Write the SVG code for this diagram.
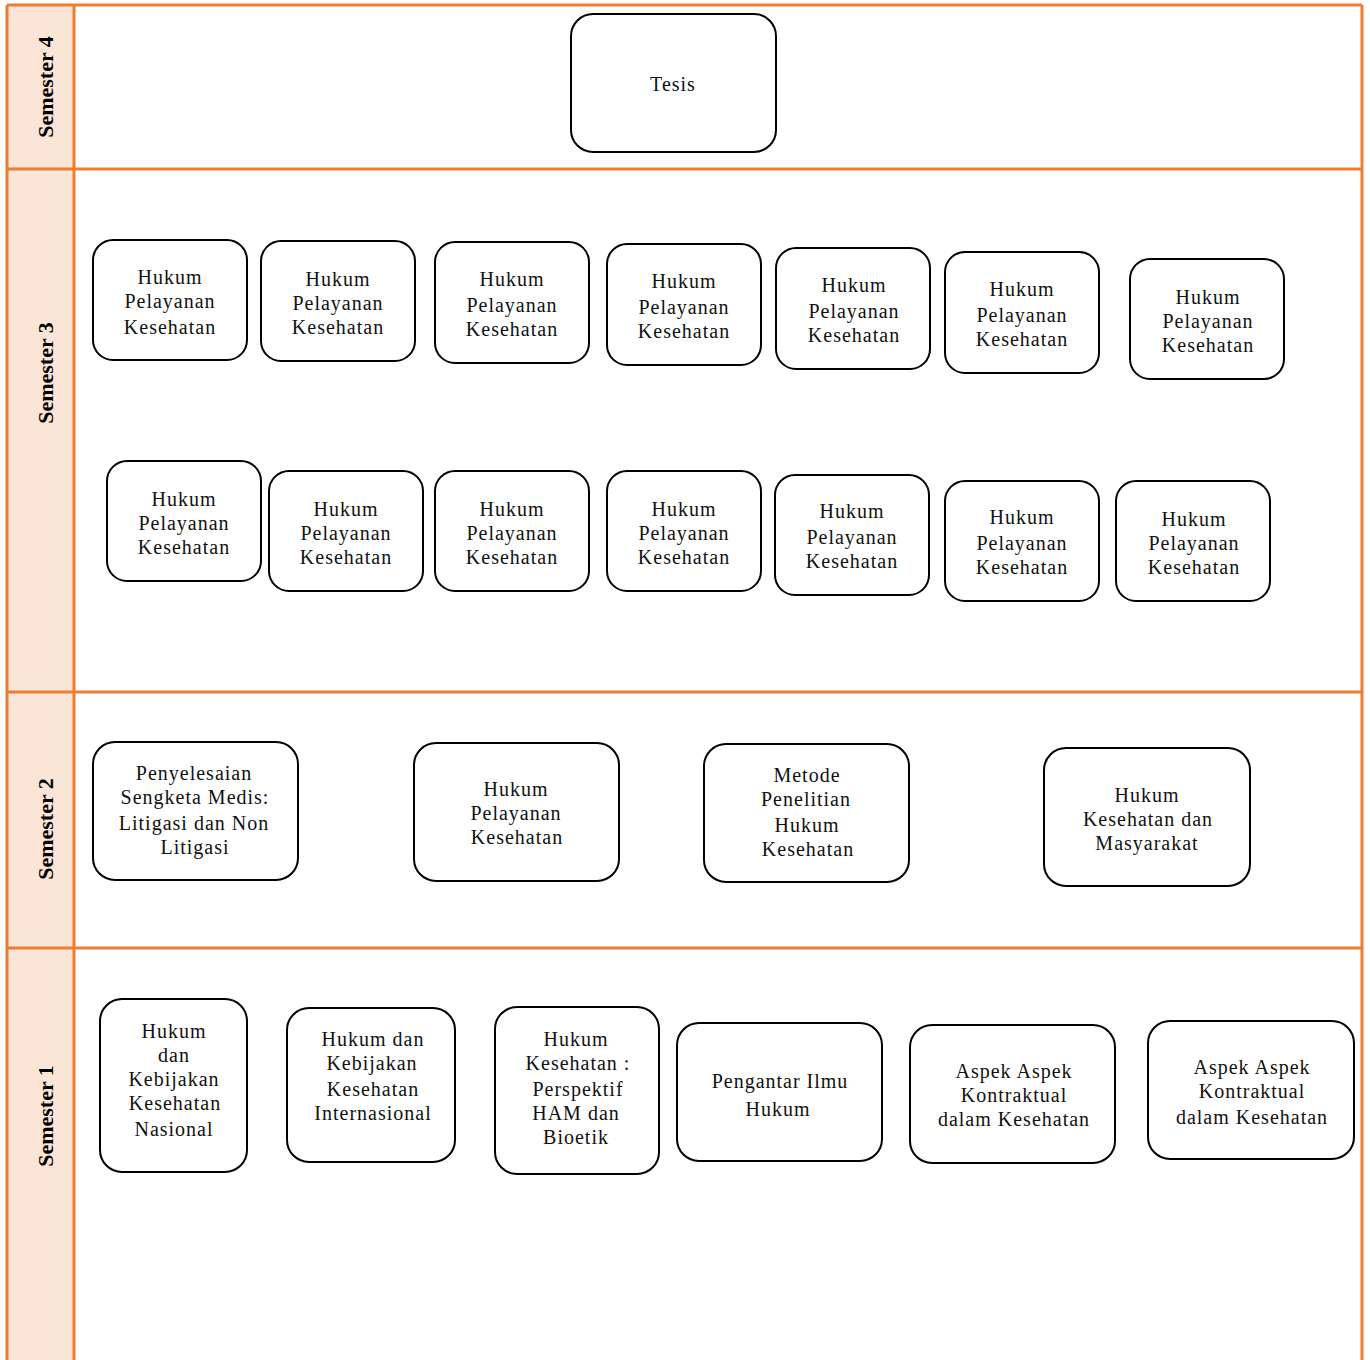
<svg xmlns="http://www.w3.org/2000/svg" width="1370" height="1360" viewBox="0 0 1370 1360">
<style>
.lane{fill:#FBE5D6;stroke:none}
.ln{stroke:#ED7D31;stroke-width:3;fill:none}
.lbl{font-family:"Liberation Serif",serif;font-size:22px;font-weight:bold;fill:#000;text-anchor:middle}
.box{fill:#fff;stroke:#000;stroke-width:2}
.t{font-family:"Liberation Serif",serif;font-size:20px;fill:#111;text-anchor:middle;letter-spacing:1px}
</style>
<rect x="0" y="0" width="1370" height="1360" fill="#fff"/>
<g id="lanes">
<rect class="lane" x="7" y="5" width="67" height="1360"/>
<line class="ln" x1="7" y1="5" x2="1362" y2="5"/>
<line class="ln" x1="7" y1="169" x2="1362" y2="169"/>
<line class="ln" x1="7" y1="692" x2="1362" y2="692"/>
<line class="ln" x1="7" y1="948" x2="1362" y2="948"/>
<line class="ln" x1="7" y1="5" x2="7" y2="1360"/>
<line class="ln" x1="74" y1="5" x2="74" y2="1360"/>
<line class="ln" x1="1362" y1="5" x2="1362" y2="1360"/>
<text class="lbl" transform="translate(53,87) rotate(-90)">Semester 4</text>
<text class="lbl" transform="translate(53,373) rotate(-90)">Semester 3</text>
<text class="lbl" transform="translate(53,829) rotate(-90)">Semester 2</text>
<text class="lbl" transform="translate(53,1116) rotate(-90)">Semester 1</text>
</g>
<g id="connectors"></g>
<g id="n-tesis"><rect class="box" x="571" y="14" width="205" height="138" rx="22"/><text class="t" x="673" y="91">Tesis</text></g>

<g id="s3-1"><rect class="box" x="93" y="240" width="154" height="120" rx="20"/><text class="t" x="170"><tspan x="170" y="284">Hukum</tspan><tspan x="170" y="308">Pelayanan</tspan><tspan x="170" y="334">Kesehatan</tspan></text></g>
<g id="s3-2"><rect class="box" x="261" y="241" width="154" height="120" rx="20"/><text class="t"><tspan x="338" y="286">Hukum</tspan><tspan x="338" y="310">Pelayanan</tspan><tspan x="338" y="334">Kesehatan</tspan></text></g>
<g id="s3-3"><rect class="box" x="435" y="242" width="154" height="121" rx="20"/><text class="t"><tspan x="512" y="286">Hukum</tspan><tspan x="512" y="312">Pelayanan</tspan><tspan x="512" y="336">Kesehatan</tspan></text></g>
<g id="s3-4"><rect class="box" x="607" y="244" width="154" height="121" rx="20"/><text class="t"><tspan x="684" y="288">Hukum</tspan><tspan x="684" y="314">Pelayanan</tspan><tspan x="684" y="338">Kesehatan</tspan></text></g>
<g id="s3-5"><rect class="box" x="776" y="248" width="154" height="121" rx="20"/><text class="t"><tspan x="854" y="292">Hukum</tspan><tspan x="854" y="318">Pelayanan</tspan><tspan x="854" y="342">Kesehatan</tspan></text></g>
<g id="s3-6"><rect class="box" x="945" y="252" width="154" height="121" rx="20"/><text class="t"><tspan x="1022" y="296">Hukum</tspan><tspan x="1022" y="322">Pelayanan</tspan><tspan x="1022" y="346">Kesehatan</tspan></text></g>
<g id="s3-7"><rect class="box" x="1130" y="259" width="154" height="120" rx="20"/><text class="t"><tspan x="1208" y="304">Hukum</tspan><tspan x="1208" y="328">Pelayanan</tspan><tspan x="1208" y="352">Kesehatan</tspan></text></g>

<g id="s3-8"><rect class="box" x="107" y="461" width="154" height="120" rx="20"/><text class="t"><tspan x="184" y="506">Hukum</tspan><tspan x="184" y="530">Pelayanan</tspan><tspan x="184" y="554">Kesehatan</tspan></text></g>
<g id="s3-9"><rect class="box" x="269" y="471" width="154" height="120" rx="20"/><text class="t"><tspan x="346" y="516">Hukum</tspan><tspan x="346" y="540">Pelayanan</tspan><tspan x="346" y="564">Kesehatan</tspan></text></g>
<g id="s3-10"><rect class="box" x="435" y="471" width="154" height="120" rx="20"/><text class="t"><tspan x="512" y="516">Hukum</tspan><tspan x="512" y="540">Pelayanan</tspan><tspan x="512" y="564">Kesehatan</tspan></text></g>
<g id="s3-11"><rect class="box" x="607" y="471" width="154" height="120" rx="20"/><text class="t"><tspan x="684" y="516">Hukum</tspan><tspan x="684" y="540">Pelayanan</tspan><tspan x="684" y="564">Kesehatan</tspan></text></g>
<g id="s3-12"><rect class="box" x="775" y="475" width="154" height="120" rx="20"/><text class="t"><tspan x="852" y="518">Hukum</tspan><tspan x="852" y="544">Pelayanan</tspan><tspan x="852" y="568">Kesehatan</tspan></text></g>
<g id="s3-13"><rect class="box" x="945" y="481" width="154" height="120" rx="20"/><text class="t"><tspan x="1022" y="524">Hukum</tspan><tspan x="1022" y="550">Pelayanan</tspan><tspan x="1022" y="574">Kesehatan</tspan></text></g>
<g id="s3-14"><rect class="box" x="1116" y="481" width="154" height="120" rx="20"/><text class="t"><tspan x="1194" y="526">Hukum</tspan><tspan x="1194" y="550">Pelayanan</tspan><tspan x="1194" y="574">Kesehatan</tspan></text></g>

<g id="s2-1"><rect class="box" x="93" y="742" width="205" height="138" rx="22"/><text class="t"><tspan x="194" y="780">Penyelesaian</tspan><tspan x="195" y="804">Sengketa Medis:</tspan><tspan x="194" y="830">Litigasi dan Non</tspan><tspan x="195" y="854">Litigasi</tspan></text></g>
<g id="s2-2"><rect class="box" x="414" y="743" width="205" height="138" rx="22"/><text class="t"><tspan x="516" y="796">Hukum</tspan><tspan x="516" y="820">Pelayanan</tspan><tspan x="517" y="844">Kesehatan</tspan></text></g>
<g id="s2-3"><rect class="box" x="704" y="744" width="205" height="138" rx="22"/><text class="t"><tspan x="807" y="782">Metode</tspan><tspan x="806" y="806">Penelitian</tspan><tspan x="807" y="832">Hukum</tspan><tspan x="808" y="856">Kesehatan</tspan></text></g>
<g id="s2-4"><rect class="box" x="1044" y="748" width="206" height="138" rx="22"/><text class="t"><tspan x="1147" y="802">Hukum</tspan><tspan x="1148" y="826">Kesehatan dan</tspan><tspan x="1147" y="850">Masyarakat</tspan></text></g>

<g id="s1-1"><rect class="box" x="100" y="999" width="147" height="173" rx="22"/><text class="t"><tspan x="174" y="1038">Hukum</tspan><tspan x="174" y="1062">dan</tspan><tspan x="174" y="1086">Kebijakan</tspan><tspan x="175" y="1110">Kesehatan</tspan><tspan x="174" y="1136">Nasional</tspan></text></g>
<g id="s1-2"><rect class="box" x="287" y="1008" width="168" height="154" rx="22"/><text class="t"><tspan x="373" y="1046">Hukum dan</tspan><tspan x="372" y="1070">Kebijakan</tspan><tspan x="373" y="1096">Kesehatan</tspan><tspan x="373" y="1120">Internasional</tspan></text></g>
<g id="s1-3"><rect class="box" x="495" y="1007" width="164" height="167" rx="22"/><text class="t"><tspan x="576" y="1046">Hukum</tspan><tspan x="578" y="1070">Kesehatan :</tspan><tspan x="578" y="1096">Perspektif</tspan><tspan x="576" y="1120">HAM dan</tspan><tspan x="576" y="1144">Bioetik</tspan></text></g>
<g id="s1-4"><rect class="box" x="677" y="1023" width="205" height="138" rx="22"/><text class="t"><tspan x="780" y="1088">Pengantar Ilmu</tspan><tspan x="778" y="1116">Hukum</tspan></text></g>
<g id="s1-5"><rect class="box" x="910" y="1025" width="205" height="138" rx="22"/><text class="t"><tspan x="1014" y="1078">Aspek Aspek</tspan><tspan x="1014" y="1102">Kontraktual</tspan><tspan x="1014" y="1126">dalam Kesehatan</tspan></text></g>
<g id="s1-6"><rect class="box" x="1148" y="1021" width="206" height="138" rx="22"/><text class="t"><tspan x="1252" y="1074">Aspek Aspek</tspan><tspan x="1252" y="1098">Kontraktual</tspan><tspan x="1252" y="1124">dalam Kesehatan</tspan></text></g>
</svg>
